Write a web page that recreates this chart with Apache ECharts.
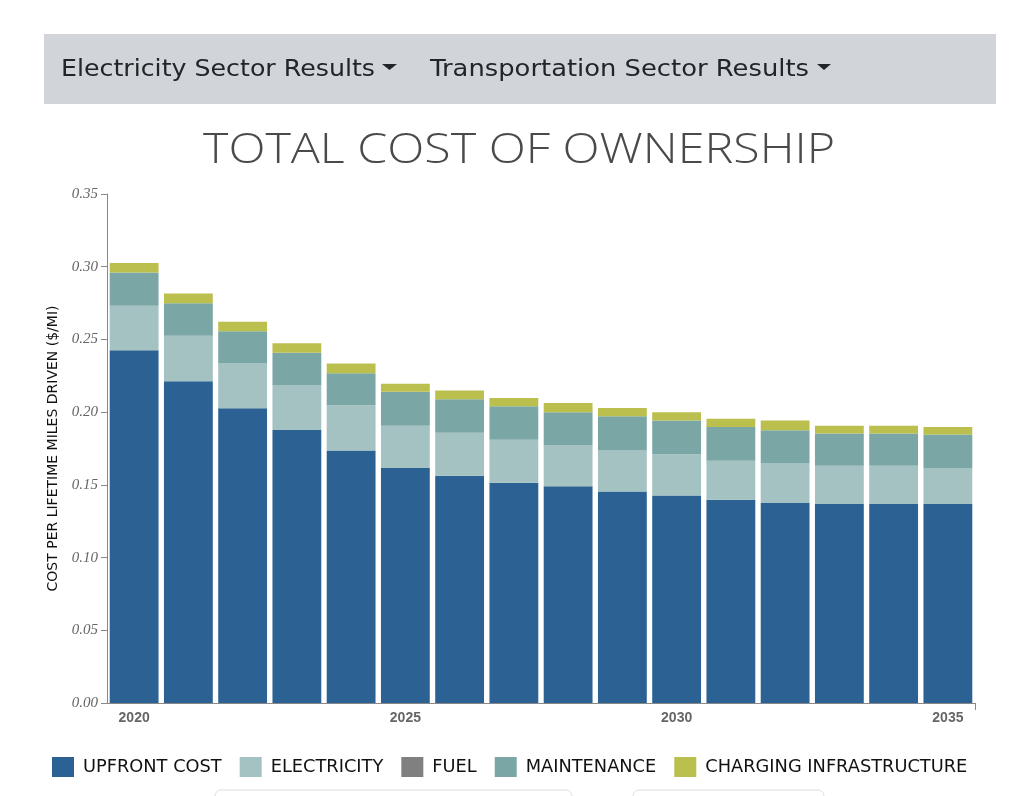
<!DOCTYPE html>
<html>
<head>
<meta charset="utf-8">
<script src="https://cdn.jsdelivr.net/npm/echarts@6/dist/echarts.min.js"></script>
<style>
  html, body { margin: 0; padding: 0; background: #fff; }
  #main { width: 1036px; height: 796px; }
</style>
</head>
<body>
<div id="main"></div>
<script>
const years = ['2020', '2021', '2022', '2023', '2024', '2025', '2026', '2027',
  '2028', '2029', '2030', '2031', '2032', '2033', '2034', '2035']
// $/mi
const upfront = [0.2425, 0.2212, 0.2026, 0.1878, 0.1737, 0.1616, 0.1563, 0.1515,
  0.1490, 0.1455, 0.1426, 0.1398, 0.1376, 0.1369, 0.1369, 0.1369]
const electricity = [0.0307, 0.0314, 0.0308, 0.0306, 0.0310, 0.0291, 0.0296, 0.0296,
  0.0280, 0.0285, 0.0284, 0.0268, 0.0270, 0.0263, 0.0263, 0.0247]
const fuel = [0, 0, 0, 0, 0, 0, 0, 0, 0, 0, 0, 0, 0, 0, 0, 0]
const maintenance = [0.0229, 0.0222, 0.0222, 0.0225, 0.0220, 0.0234, 0.0229, 0.0229,
  0.0229, 0.0231, 0.0232, 0.0232, 0.0229, 0.0222, 0.0222, 0.0231]
const charging = [0.0065, 0.0067, 0.0066, 0.0064, 0.0067, 0.0055, 0.0060, 0.0058,
  0.0064, 0.0058, 0.0057, 0.0057, 0.0067, 0.0053, 0.0053, 0.0051]
const yTicks = [0, 0.05, 0.10, 0.15, 0.20, 0.25, 0.30, 0.35]

const chart = echarts.init(document.getElementById('main'))

// the page font (Montserrat) is not installed, so stretch a local one to the same width
const ctx = document.createElement('canvas').getContext('2d')
function wideText(text, font, x, y, width, fill) {
  ctx.font = font
  const w = ctx.measureText(text).width
  return {
    type: 'text', x, y, scaleX: width / w, originX: 0,
    style: { text, font, fill, verticalAlign: 'middle' }
  }
}
const caret = (x1, x2, y1, y2) => ({
  type: 'polygon',
  shape: { points: [[x1, y1], [x2, y1], [(x1 + x2) / 2, y2]] },
  style: { fill: '#212529' }
})

const every5 = (i) => i % 5 === 0
const bar = (name, data, color) => ({
  name, data, type: 'bar', stack: 'tco',
  barCategoryGap: '10%',
  itemStyle: { color },
  emphasis: { disabled: true }
})

chart.setOption({
  animation: false,
  graphic: [
    { type: 'rect', shape: { x: 44, y: 34, width: 952, height: 70 }, style: { fill: '#d1d5d9' } },
    wideText('Electricity Sector Results', '23px "DejaVu Sans"', 61, 70, 314, '#212529'),
    caret(382, 397, 64, 70),
    wideText('Transportation Sector Results', '23px "DejaVu Sans"', 430, 70, 379, '#212529'),
    caret(817, 831, 64, 70),
    wideText('TOTAL COST OF OWNERSHIP', '300 42px "Open Sans"', 203, 151, 632, '#4a4a4a'),
    // right end tick of the x axis
    { type: 'line', shape: { x1: 975.5, y1: 703, x2: 975.5, y2: 710 }, style: { stroke: '#888', lineWidth: 1 } },
    // partial buttons at the bottom
    { type: 'rect', shape: { x: 215, y: 790, width: 357, height: 30, r: 6 }, style: { fill: '#fff', stroke: '#ddd', lineWidth: 1 } },
    { type: 'rect', shape: { x: 633, y: 790, width: 191, height: 30, r: 6 }, style: { fill: '#fff', stroke: '#ddd', lineWidth: 1 } }
  ],
  legend: {
    left: 47, top: 752,
    itemWidth: 22, itemHeight: 20, itemGap: 18,
    icon: 'rect',
    selectedMode: false,
    textStyle: { fontFamily: 'DejaVu Sans', fontSize: 17.8, color: '#111', padding: [0, 0, 0, 4] },
    data: ['UPFRONT COST', 'ELECTRICITY', 'FUEL', 'MAINTENANCE', 'CHARGING INFRASTRUCTURE']
  },
  grid: { left: 107, right: 61, top: 194, bottom: 93 },
  xAxis: {
    type: 'category',
    data: years,
    boundaryGap: true,
    axisLine: { lineStyle: { color: '#888' } },
    axisTick: { alignWithLabel: true, interval: every5, length: 6, lineStyle: { color: '#888' } },
    axisLabel: { interval: every5, fontFamily: 'Liberation Sans', fontWeight: 'bold', fontSize: 14, color: '#666', margin: 8 }
  },
  yAxis: {
    type: 'value',
    min: 0, max: 0.35, interval: 0.05,
    name: 'COST PER LIFETIME MILES DRIVEN ($/MI)',
    nameLocation: 'middle',
    nameGap: 47,
    nameTextStyle: { fontFamily: 'DejaVu Sans', fontSize: 14, color: '#111' },
    axisLine: { show: true, lineStyle: { color: '#888' } },
    axisTick: { show: true, length: 6, lineStyle: { color: '#888' } },
    splitLine: { show: false },
    axisLabel: {
      fontFamily: 'Liberation Serif', fontStyle: 'italic', fontSize: 15, color: '#666', margin: 9,
      formatter: (v) => yTicks.some((t) => Math.abs(t - v) < 1e-9) ? v.toFixed(2) : ''
    }
  },
  series: [
    bar('UPFRONT COST', upfront, '#2b6193'),
    bar('ELECTRICITY', electricity, '#a3c2c1'),
    bar('FUEL', fuel, '#808080'),
    bar('MAINTENANCE', maintenance, '#7aa6a5'),
    bar('CHARGING INFRASTRUCTURE', charging, '#bbbf4e')
  ]
})
</script>
</body>
</html>
